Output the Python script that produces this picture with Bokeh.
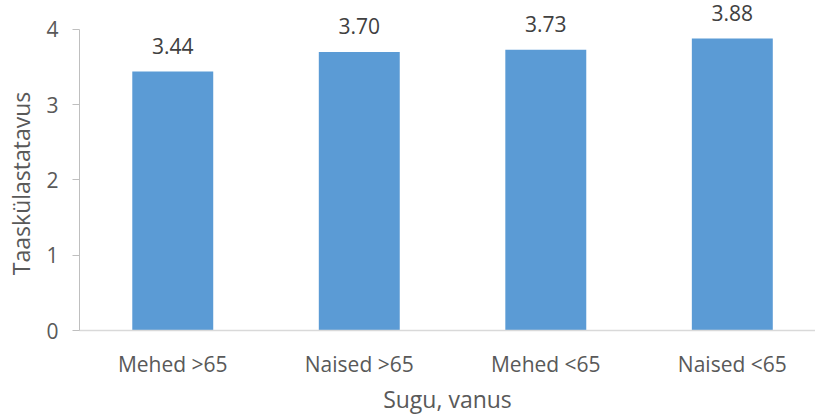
from bokeh.plotting import figure
from bokeh.models import Range1d, FixedTicker, ColumnDataSource
from bokeh.core.properties import value
from bokeh.embed import file_html
from bokeh.resources import INLINE

# Revisit rate by sex and age group
categories = ["Mehed >65", "Naised >65", "Mehed <65", "Naised <65"]
rates = [3.44, 3.70, 3.73, 3.88]
y_ticks = [0, 1, 2, 3, 4]
x_title = "Sugu, vanus"
y_title = "Taaskülastatavus"

FONT = "Open Sans"
TEXT_COLOR = "#595959"

xs = [i + 0.5 for i in range(len(categories))]
src = ColumnDataSource(dict(
    x=xs,
    top=rates,
    label=[f"{v:.2f}" for v in rates],
))

p = figure(
    width=815, height=417,
    x_range=Range1d(0, 3.946),
    y_range=Range1d(0, 4.385),
    output_backend="svg", toolbar_location=None,
    min_border_left=79, min_border_right=0, min_border_top=0, min_border_bottom=0,
)
p.outline_line_color = None
p.grid.visible = False
p.background_fill_color = "white"
p.border_fill_color = "white"

p.vbar(x="x", top="top", width=0.434, bottom=0, source=src,
       fill_color="#5B9BD5", line_color=None)

# value labels above each bar
p.text(x="x", y="top", text="label", source=src,
       text_font=value(FONT), text_font_size="21px", text_color="#404040",
       text_align="center", text_baseline="alphabetic", y_offset=-26)

# x axis: category names at bar centres, no tick marks
p.xaxis.ticker = FixedTicker(ticks=xs)
p.xaxis.major_label_overrides = {x: c for x, c in zip(xs, categories)}
p.xaxis.major_tick_line_color = None
p.xaxis.minor_tick_line_color = None
p.xaxis.axis_line_color = "#D9D9D9"
p.xaxis.axis_line_width = 1.5
p.xaxis.major_label_text_font = FONT
p.xaxis.major_label_text_font_size = "21px"
p.xaxis.major_label_text_color = TEXT_COLOR
p.xaxis.major_label_standoff = 13
p.xaxis.axis_label = x_title
p.xaxis.axis_label_text_font = FONT
p.xaxis.axis_label_text_font_size = "23px"
p.xaxis.axis_label_text_font_style = "normal"
p.xaxis.axis_label_text_color = TEXT_COLOR
p.xaxis.axis_label_standoff = 2

p.yaxis.ticker = FixedTicker(ticks=y_ticks)
p.yaxis.bounds = (0, 4)
p.yaxis.axis_line_color = "#BFBFBF"
p.yaxis.major_tick_line_color = "#BFBFBF"
p.yaxis.major_tick_in = 0
p.yaxis.major_tick_out = 7
p.yaxis.minor_tick_line_color = None
p.yaxis.major_label_text_font = FONT
p.yaxis.major_label_text_font_size = "21px"
p.yaxis.major_label_text_color = TEXT_COLOR
p.yaxis.major_label_standoff = 14
# trailing no-break spaces keep the title centred on the 0–4 span of the axis
p.yaxis.axis_label = y_title + "\u00a0" * 6
p.yaxis.axis_label_text_font = FONT
p.yaxis.axis_label_text_font_size = "23px"
p.yaxis.axis_label_text_font_style = "normal"
p.yaxis.axis_label_text_color = TEXT_COLOR
p.yaxis.axis_label_standoff = 6

open("out.html", "w").write(file_html(p, INLINE))
